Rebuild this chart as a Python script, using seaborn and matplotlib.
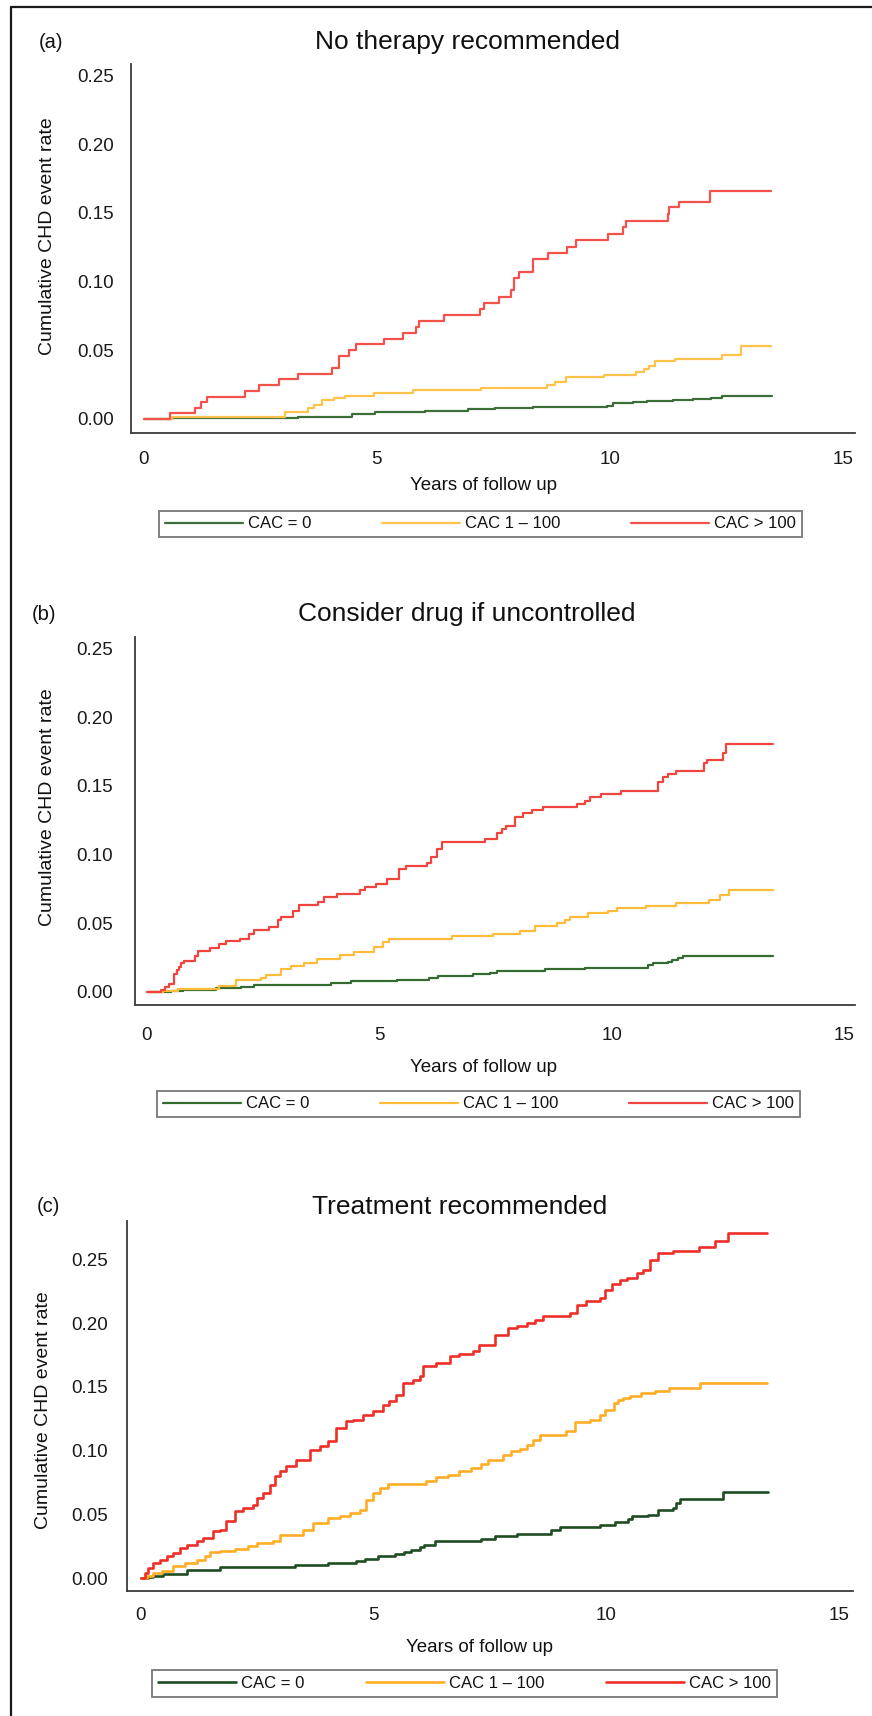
import matplotlib
matplotlib.use("Agg")
import matplotlib.pyplot as plt
import pandas as pd
import seaborn as sns
from matplotlib.lines import Line2D

sns.set_style("white")
plt.rcParams["font.family"] = ["Liberation Sans", "DejaVu Sans"]

# ---------------- data ----------------
GROUPS = ["CAC = 0", "CAC 1 \u2013 100", "CAC > 100"]
TITLES = ["No therapy recommended", "Consider drug if uncontrolled", "Treatment recommended"]
TAGS = ["(a)", "(b)", "(c)"]
XTICKS = [0, 5, 10, 15]
YTICKS = [0.00, 0.05, 0.10, 0.15, 0.20, 0.25]
XLABEL = "Years of follow up"
YLABEL = "Cumulative CHD event rate"

# panel (a)
A_GRN_T = [0, 0.60, 2.67, 3.31, 4.46, 4.96, 6.03, 6.96, 7.53, 8.36, 8.68, 9.93, 10.07, 10.5, 10.79, 11.36, 11.79, 12.18, 12.40, 13.47]
A_GRN_V = [0, 0.0005, 0.001, 0.0016, 0.0033, 0.0048, 0.006, 0.007, 0.0078, 0.0084, 0.0089, 0.0096, 0.0113, 0.012, 0.0128, 0.0138, 0.0147, 0.0155, 0.0167, 0.0167]
A_YEL_T = [0, 0.60, 3.03, 3.53, 3.65, 3.83, 4.08, 4.32, 4.94, 5.78, 7.23, 8.66, 8.82, 9.06, 9.88, 10.57, 10.73, 10.85, 10.97, 11.40, 12.40, 12.81, 13.46]
A_YEL_V = [0, 0.0016, 0.0053, 0.0082, 0.0099, 0.0138, 0.0152, 0.0167, 0.0186, 0.0208, 0.0226, 0.0247, 0.0266, 0.0303, 0.032, 0.0344, 0.0364, 0.0385, 0.0422, 0.0434, 0.0466, 0.0531, 0.0531]
A_RED_T = [0, 0.57, 1.10, 1.22, 1.35, 2.18, 2.46, 2.89, 3.31, 4.03, 4.19, 4.41, 4.56, 5.15, 5.57, 5.84, 5.90, 6.43, 7.22, 7.30,
           7.62, 7.87, 7.94, 8.05, 8.34, 8.68, 9.07, 9.27, 9.97, 10.29, 10.35, 11.24, 11.27, 11.48, 12.14, 13.46]
A_RED_V = [0, 0.004, 0.008, 0.012, 0.016, 0.0205, 0.0247, 0.029, 0.033, 0.037, 0.0458, 0.050, 0.0543, 0.058, 0.0625, 0.067, 0.0716, 0.0757, 0.0798, 0.0844,
           0.089, 0.094, 0.1028, 0.1072, 0.1163, 0.1206, 0.1255, 0.130, 0.135, 0.1396, 0.1444, 0.1492, 0.154, 0.1583, 0.1663, 0.1663]

# panel (b)
B_GRN_T = [0, 0.52, 0.77, 1.48, 2.02, 2.30, 3.95, 4.38, 5.38, 6.06, 6.27, 7.02, 7.38, 7.52, 8.56, 9.42, 10.78, 10.89, 11.21, 11.30, 11.43, 11.52, 13.47]
B_GRN_V = [0, 0.001, 0.0015, 0.0027, 0.0036, 0.0051, 0.0066, 0.008, 0.009, 0.0102, 0.0114, 0.0129, 0.0138, 0.0150, 0.0165, 0.0177, 0.0197, 0.0209, 0.0221, 0.0233, 0.0245, 0.0262, 0.0262]
B_YEL_T = [0, 0.34, 0.66, 1.55, 1.91, 2.45, 2.55, 2.88, 3.09, 3.38, 3.66, 4.16, 4.45, 4.88, 5.08, 5.20, 6.56, 7.45, 8.02, 8.34,
           8.81, 8.99, 9.10, 9.49, 9.91, 10.10, 10.74, 11.39, 12.09, 12.32, 12.52, 13.47]
B_YEL_V = [0, 0.001, 0.0024, 0.0046, 0.0085, 0.0104, 0.0121, 0.017, 0.0187, 0.0211, 0.0243, 0.0267, 0.0291, 0.0328, 0.0364, 0.0388, 0.0405, 0.0425, 0.0446, 0.048,
           0.050, 0.0524, 0.0544, 0.0573, 0.0592, 0.0609, 0.0628, 0.0645, 0.067, 0.0706, 0.0743, 0.0743]
B_RED_T = [0, 0.30, 0.39, 0.48, 0.59, 0.64, 0.69, 0.74, 0.80, 1.03, 1.10, 1.35, 1.55, 1.70, 2.00, 2.20, 2.30, 2.63, 2.82, 2.88,
           3.13, 3.27, 3.68, 3.81, 4.09, 4.59, 4.68, 4.93, 5.16, 5.42, 5.58, 6.02, 6.11, 6.24, 6.34, 7.27, 7.53, 7.63, 7.73, 7.91,
           8.09, 8.29, 8.52, 9.24, 9.43, 9.53, 9.76, 10.19, 11.0, 11.1, 11.21, 11.38, 11.99, 12.05, 12.39, 12.45, 13.47]
B_RED_V = [0, 0.0017, 0.0036, 0.006, 0.0133, 0.0158, 0.018, 0.021, 0.0226, 0.026, 0.0298, 0.0323, 0.0347, 0.0369, 0.0383, 0.0425, 0.0449, 0.0473, 0.0522, 0.0546,
           0.059, 0.0631, 0.0655, 0.0694, 0.0716, 0.074, 0.0764, 0.0784, 0.0825, 0.0898, 0.0915, 0.0939, 0.0983, 0.1043, 0.1092, 0.1116, 0.1155, 0.1184, 0.1208, 0.1276,
           0.130, 0.1325, 0.1344, 0.1369, 0.1393, 0.1417, 0.1441, 0.1466, 0.1531, 0.1563, 0.1587, 0.1611, 0.1665, 0.1689, 0.1737, 0.1805, 0.1805]

# panel (c)
C_GRN_T = [0, 0.16, 0.27, 0.49, 0.99, 1.70, 3.31, 4.02, 4.63, 4.81, 5.09, 5.45, 5.66, 5.81, 5.99, 6.09, 6.31, 7.31, 7.60, 8.08,
           8.80, 9.00, 9.86, 10.18, 10.47, 10.54, 10.90, 11.11, 11.42, 11.50, 11.57, 12.51, 13.47]
C_GRN_V = [0, 0.0008, 0.0018, 0.0031, 0.0065, 0.0084, 0.0099, 0.0118, 0.0136, 0.0152, 0.017, 0.0188, 0.0204, 0.0222, 0.0243, 0.0262, 0.0288, 0.0306, 0.0327, 0.0348,
           0.0379, 0.040, 0.0419, 0.0437, 0.0463, 0.0484, 0.0497, 0.0531, 0.0549, 0.0589, 0.062, 0.0672, 0.0672]
C_YEL_T = [0, 0.13, 0.27, 0.45, 0.70, 0.95, 1.20, 1.38, 1.49, 1.70, 2.02, 2.31, 2.49, 2.84, 2.99, 3.49, 3.70, 4.02, 4.27, 4.49,
           4.70, 4.84, 4.99, 5.13, 5.31, 6.13, 6.34, 6.59, 6.84, 7.09, 7.31, 7.45, 7.78, 7.96, 8.14, 8.29, 8.43, 8.57, 9.14, 9.32,
           9.64, 9.85, 9.96, 10.15, 10.25, 10.36, 10.50, 10.75, 11.04, 11.35, 12.01, 13.44]
C_YEL_V = [0, 0.0018, 0.0039, 0.0052, 0.0092, 0.0118, 0.0144, 0.0175, 0.0201, 0.0215, 0.0228, 0.0249, 0.0275, 0.0288, 0.034, 0.0379, 0.0432, 0.0471, 0.0484, 0.051,
           0.0536, 0.0615, 0.0667, 0.0706, 0.074, 0.0759, 0.0793, 0.0811, 0.0837, 0.0863, 0.0897, 0.0924, 0.0968, 0.0994, 0.1013, 0.1047, 0.1086, 0.1125, 0.1151, 0.1222,
           0.1243, 0.1282, 0.1321, 0.1374, 0.1395, 0.1413, 0.1431, 0.1452, 0.1465, 0.1491, 0.1531, 0.1531]
C_RED_T = [0, 0.09, 0.16, 0.27, 0.41, 0.56, 0.70, 0.84, 0.99, 1.20, 1.34, 1.56, 1.70, 1.84, 2.02, 2.20, 2.41, 2.49, 2.63, 2.77,
           2.88, 2.99, 3.13, 3.34, 3.63, 3.84, 4.02, 4.20, 4.41, 4.56, 4.77, 4.99, 5.20, 5.34, 5.49, 5.63, 5.84, 5.99, 6.06, 6.34,
           6.63, 6.84, 7.13, 7.27, 7.60, 7.89, 8.07, 8.29, 8.47, 8.64, 9.22, 9.36, 9.57, 9.85, 9.96, 10.11, 10.29, 10.43, 10.65, 10.79,
           10.93, 11.11, 11.42, 11.99, 12.33, 12.61, 13.44]
C_RED_V = [0, 0.004, 0.0078, 0.0118, 0.0144, 0.017, 0.020, 0.0235, 0.026, 0.0288, 0.0314, 0.0366, 0.038, 0.0445, 0.0523, 0.055, 0.0576, 0.0628, 0.0667, 0.0733,
           0.0798, 0.0837, 0.0877, 0.0929, 0.1007, 0.1033, 0.1073, 0.1177, 0.123, 0.1243, 0.1282, 0.1308, 0.136, 0.1387, 0.1439, 0.153, 0.1557, 0.1583, 0.1661, 0.1688,
           0.174, 0.1761, 0.1779, 0.1828, 0.191, 0.196, 0.198, 0.200, 0.2028, 0.2054, 0.208, 0.2145, 0.2172, 0.2198, 0.2263, 0.231, 0.2336, 0.2355, 0.2394, 0.242,
           0.2493, 0.2551, 0.2564, 0.2598, 0.2643, 0.2708, 0.2708]

PANEL_DATA = [
    [(A_GRN_T, A_GRN_V), (A_YEL_T, A_YEL_V), (A_RED_T, A_RED_V)],
    [(B_GRN_T, B_GRN_V), (B_YEL_T, B_YEL_V), (B_RED_T, B_RED_V)],
    [(C_GRN_T, C_GRN_V), (C_YEL_T, C_YEL_V), (C_RED_T, C_RED_V)],
]

# ---------------- layout & style ----------------
W, H = 872, 1716
PALETTES = [
    ["#3d6e3a", "#ffc24a", "#f2514c"],
    ["#356a31", "#ffbb3a", "#f0443f"],
    ["#1e4d22", "#ffad24", "#ee2f28"],
]
LAYOUT = [
    dict(box=(130.6, 63.6, 855, 432.9), xlim=(-0.285, 15.26), ylim=(-0.0102, 0.2588),
         title=(467, 42), tag=(39, 42), ylab=(48, 236), xlab=(483, 485),
         leg=(159, 507, 802, 541), xpad=7.5, ypad=6, lw=1.6),
    dict(box=(135, 637, 855, 1005), xlim=(-0.258, 15.23), ylim=(-0.0095, 0.2584),
         title=(467, 614), tag=(32, 615), ylab=(47, 807), xlab=(483, 1067),
         leg=(157, 1088, 800, 1120), xpad=10.4, ypad=10, lw=1.6),
    dict(box=(127, 1221, 853, 1591), xlim=(-0.292, 15.29), ylim=(-0.0102, 0.2802),
         title=(460, 1207), tag=(37, 1207), ylab=(43, 1410), xlab=(479, 1648),
         leg=(152, 1667, 777, 1700), xpad=6, ypad=8, lw=1.9),
]


def fx(px):
    return px / W


def fy(py):
    return 1 - py / H


fig = plt.figure(figsize=(W / 100, H / 100), dpi=100)

for i, lay in enumerate(LAYOUT):
    x0, y0, x1, y1 = lay["box"]
    ax = fig.add_axes([fx(x0), fy(y1), fx(x1) - fx(x0), fy(y0) - fy(y1)])

    rows = []
    for g, (ts, vs) in zip(GROUPS, PANEL_DATA[i]):
        for t, v in zip(ts, vs):
            rows.append({"t": t, "v": v, "group": g})
    df = pd.DataFrame(rows)

    sns.lineplot(data=df, x="t", y="v", hue="group", hue_order=GROUPS,
                 palette=PALETTES[i], estimator=None, sort=False,
                 drawstyle="steps-post", linewidth=lay["lw"], legend=False, ax=ax)

    ax.set_xlim(*lay["xlim"])
    ax.set_ylim(*lay["ylim"])
    ax.set_xticks(XTICKS)
    ax.set_xticklabels([str(x) for x in XTICKS])
    ax.set_yticks(YTICKS)
    ax.set_yticklabels([f"{y:.2f}" for y in YTICKS])
    ax.set_xlabel("")
    ax.set_ylabel("")
    for s in ["top", "right"]:
        ax.spines[s].set_visible(False)
    for s in ["left", "bottom"]:
        ax.spines[s].set_color("#3a3a3a")
        ax.spines[s].set_linewidth(1.3)
    ax.tick_params(direction="out", length=5.8, width=1.1, color="#808080",
                   labelsize=13.5, labelcolor="#1a1a1a")
    ax.tick_params(axis="x", pad=lay["xpad"])
    ax.tick_params(axis="y", pad=lay["ypad"])

    fig.text(fx(lay["title"][0]), fy(lay["title"][1]), TITLES[i], ha="center", va="center",
             fontsize=19, color="#111111")
    fig.text(fx(lay["tag"][0]), fy(lay["tag"][1]), TAGS[i], ha="left", va="center",
             fontsize=14.5, color="#111111")
    fig.text(fx(lay["ylab"][0]), fy(lay["ylab"][1]), YLABEL, ha="center", va="center",
             rotation=90, fontsize=14, color="#111111")
    fig.text(fx(lay["xlab"][0]), fy(lay["xlab"][1]), XLABEL, ha="center", va="center",
             fontsize=13.5, color="#111111")

    lx0, ly0, lx1, ly1 = lay["leg"]
    handles = [Line2D([], [], color=c, lw=lay["lw"]) for c in PALETTES[i]]
    leg = ax.legend(handles, GROUPS, ncol=3, mode="expand", loc="center",
                    bbox_to_anchor=(fx(lx0), fy(ly1), fx(lx1) - fx(lx0), fy(ly0) - fy(ly1)),
                    bbox_transform=fig.transFigure, frameon=True, fancybox=False,
                    edgecolor="#555555", fontsize=12, handlelength=4.7,
                    handletextpad=0.3, borderpad=0.35, borderaxespad=0)
    leg.get_frame().set_linewidth(1.3)
    for txt in leg.get_texts():
        txt.set_color("#111111")

# figure border (top and left)
fig.add_artist(Line2D([fx(11), 1], [fy(6.7), fy(6.7)], transform=fig.transFigure,
                      color="#1a1a1a", lw=1.6))
fig.add_artist(Line2D([fx(11), fx(11)], [fy(6.7), 0], transform=fig.transFigure,
                      color="#1a1a1a", lw=1.6))

fig.savefig("out.png", dpi=100)
